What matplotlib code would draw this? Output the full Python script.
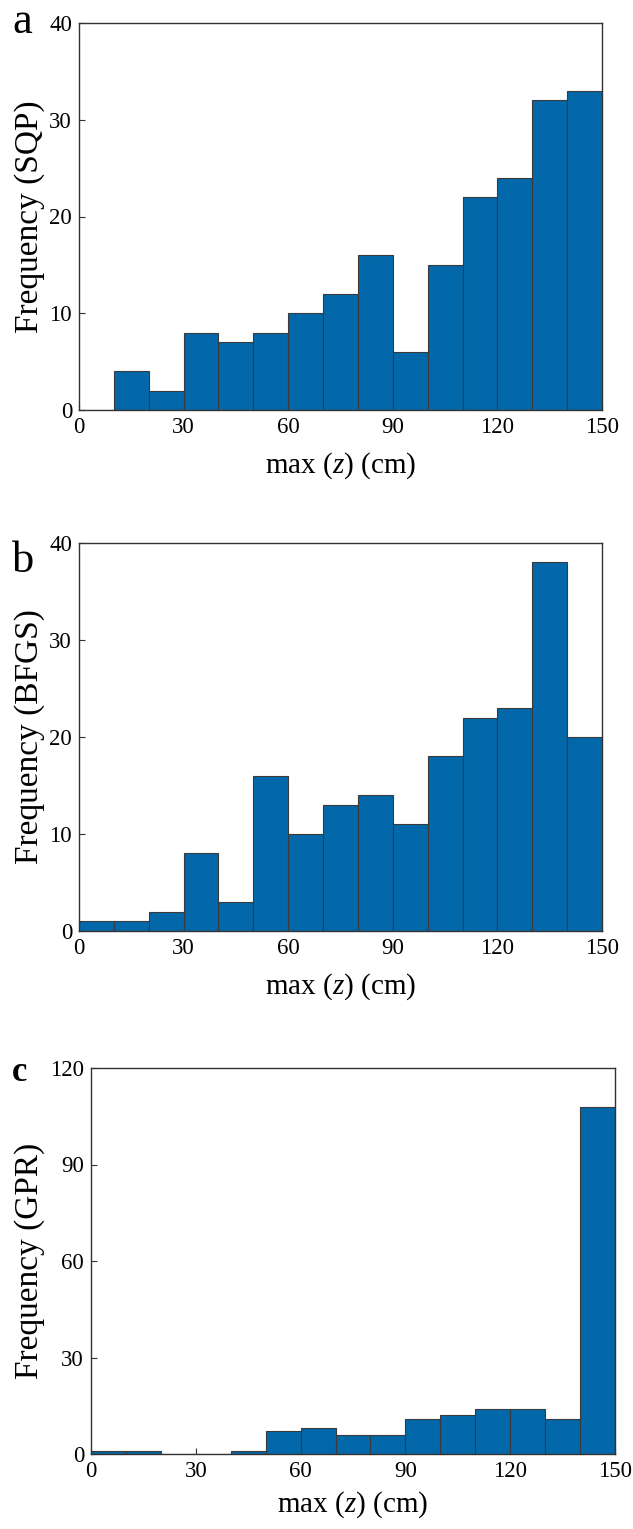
import numpy as np
import matplotlib
matplotlib.use("Agg")
import matplotlib.pyplot as plt

# Bin edges shared by all three histograms (cm)
bin_edges = [0, 10, 20, 30, 40, 50, 60, 70, 80, 90, 100, 110, 120, 130, 140, 150]

# Counts per bin for each optimiser
counts_sqp = [0, 4, 2, 8, 7, 8, 10, 12, 16, 6, 15, 22, 24, 32, 33]
counts_bfgs = [1, 1, 2, 8, 3, 16, 10, 13, 14, 11, 18, 22, 23, 38, 20]
counts_gpr = [1, 1, 0, 0, 1, 7, 8, 6, 6, 11, 12, 14, 14, 11, 108]

panel_letters = ["a", "b", "c"]
y_labels = ["Frequency (SQP)", "Frequency (BFGS)", "Frequency (GPR)"]
x_label = "max ($\\mathit{z}$) (cm)"
x_ticks = [0, 30, 60, 90, 120, 150]
y_ticks_small = [0, 10, 20, 30, 40]
y_ticks_large = [0, 30, 60, 90, 120]

W, H = 633, 1529
DPI = 100
plt.rcParams["font.family"] = ["Liberation Serif", "DejaVu Serif"]
plt.rcParams["mathtext.fontset"] = "custom"
plt.rcParams["mathtext.it"] = "Liberation Serif:italic"
plt.rcParams["mathtext.rm"] = "Liberation Serif"

fig = plt.figure(figsize=(W / DPI, H / DPI), dpi=DPI)
fig.patch.set_facecolor("white")


def box(left, top, right, bottom):
    return [left / W, 1 - bottom / H, (right - left) / W, (bottom - top) / H]


def fx(x):
    return x / W


def fy(y):
    return 1 - y / H


# axes rectangles in pixels: left, top, right, bottom
rects = [(79, 23, 602, 410), (79, 543, 602, 931), (91, 1068, 615, 1454)]
all_counts = [counts_sqp, counts_bfgs, counts_gpr]
y_limits = [40, 40, 120]
y_tick_sets = [y_ticks_small, y_ticks_small, y_ticks_large]
xlabel_offset = [40, 40, 35]
letter_pos = [(12, 33), (12, 572), (12, 1081)]
letter_bold = [False, False, True]
letter_size = [32, 32, 25]

bar_color = "#0268AA"
edge_color = "#3a3a3a"
spine_color = "#333333"

edges = np.array(bin_edges)
for i in range(3):
    l, t, r, b = rects[i]
    ax = fig.add_axes(box(l, t, r, b))
    ax.bar(edges[:-1], all_counts[i], width=np.diff(edges), align="edge",
           color=bar_color, edgecolor=edge_color, linewidth=0.8, zorder=2)
    ax.set_xlim(0, 150)
    ax.set_ylim(0, y_limits[i])
    ax.set_xticks(x_ticks)
    ax.set_yticks(y_tick_sets[i])
    ax.tick_params(direction="in", length=4, width=0.8, color=spine_color,
                   labelsize=16.5, pad=5)
    for s in ax.spines.values():
        s.set_color(spine_color)
        s.set_linewidth(1.0)
        s.set_zorder(3)
    ax.set_ylabel(y_labels[i], fontsize=24)
    ax.yaxis.set_label_coords(fx(45), fy((t + b) / 2), transform=fig.transFigure)
    ax.set_xlabel(x_label, fontsize=21)
    ax.xaxis.set_label_coords(fx((l + r) / 2), fy(b + xlabel_offset[i]),
                              transform=fig.transFigure)
    fig.text(fx(letter_pos[i][0]), fy(letter_pos[i][1]), panel_letters[i],
             fontsize=letter_size[i], fontweight="bold" if letter_bold[i] else "normal",
             ha="left", va="baseline")

fig.savefig("out.png", dpi=DPI, facecolor="white")
